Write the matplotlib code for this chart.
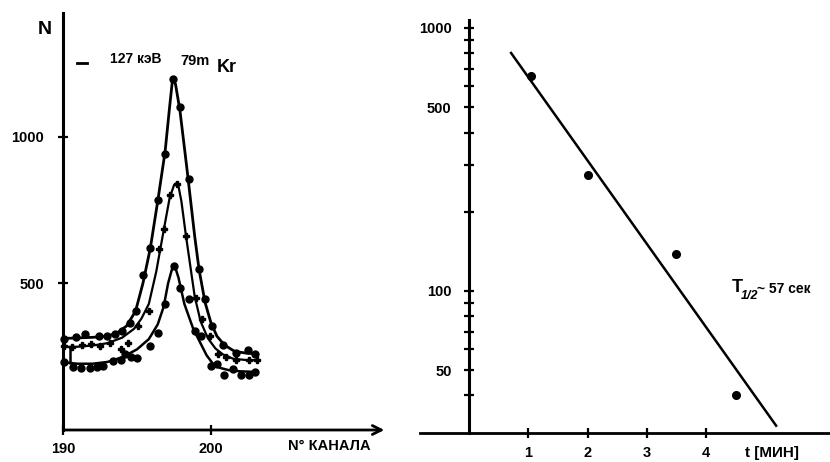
import matplotlib
matplotlib.use('Agg')
import matplotlib.pyplot as plt
from matplotlib.ticker import FixedLocator, NullFormatter

plt.rcParams['font.family'] = ['Liberation Sans', 'DejaVu Sans']
plt.rcParams['font.weight'] = 'bold'

# ---- left panel: 127 keV line, three spectra (channel, counts)
top_ch = [190.1, 190.9, 191.5, 192.4, 193.0, 193.5, 194.0, 194.5, 194.9, 195.4, 195.9,
          196.4, 196.9, 197.4, 197.9, 198.5, 199.2, 199.6, 200.1, 200.8, 201.7, 202.5, 203.0]
top_n = [310, 318, 327, 319, 321, 329, 338, 366, 406, 527, 621,
         786, 942, 1197, 1101, 856, 550, 446, 353, 289, 264, 272, 258]
top_fit_ch = [190.0, 191.0, 192.0, 193.0, 193.7, 194.3, 194.9, 195.4, 195.9, 196.4, 196.9, 197.2,
              197.4, 197.6, 197.9, 198.4, 198.9, 199.2, 199.6, 200.0, 200.4, 200.9, 201.6, 202.4, 203.1]
top_fit_n = [312, 314, 316, 320, 332, 355, 405, 500, 620, 780, 950, 1100,
             1195, 1180, 1090, 880, 660, 545, 435, 365, 320, 290, 268, 262, 260]

mid_ch = [190.1, 190.6, 191.3, 191.9, 192.5, 193.2, 193.9, 194.4, 195.1, 195.8, 196.5, 196.8,
          197.2, 197.7, 198.3, 199.0, 199.4, 199.9, 200.5, 201.0, 201.7, 202.6, 203.1]
mid_n = [287, 282, 290, 293, 288, 298, 276, 296, 355, 406, 616, 684,
         803, 838, 661, 450, 380, 320, 260, 250, 240, 240, 238]
mid_fit_ch = [190.0, 191.0, 192.0, 193.0, 194.0, 194.8, 195.3, 195.8, 196.3, 196.8, 197.2, 197.5,
              197.75, 198.0, 198.3, 198.6, 198.9, 199.3, 199.8, 200.3, 200.8, 201.5, 202.3, 203.1]
mid_fit_n = [283, 284, 288, 296, 315, 345, 380, 430, 540, 680, 790, 835,
             845, 780, 665, 560, 455, 370, 312, 278, 258, 243, 239, 238]

bot_ch = [190.1, 190.7, 191.2, 191.8, 192.3, 192.7, 193.4, 193.9, 194.2, 194.6, 195.0, 195.9, 196.4,
          196.9, 197.5, 197.9, 198.5, 198.9, 199.3, 200.0, 200.4, 200.9, 201.5, 202.0, 202.6, 203.0]
bot_n = [231, 215, 213, 212, 216, 219, 236, 240, 258, 250, 247, 287, 332,
         430, 559, 485, 446, 338, 321, 219, 225, 187, 207, 187, 187, 198]
bot_fit_ch = [190.0, 191.0, 192.0, 193.0, 194.0, 195.0, 195.8, 196.4, 196.8, 197.1, 197.4, 197.55,
              197.8, 198.2, 198.8, 199.3, 199.7, 200.1, 200.6, 201.2, 202.0, 203.1]
bot_fit_n = [231, 226, 226, 232, 248, 275, 310, 360, 420, 500, 555, 560,
             520, 430, 345, 295, 255, 228, 212, 204, 200, 198]

# ---- right panel: decay of the line
t_min = [1.05, 2.0, 3.49, 4.5]
counts = [656, 276, 138, 40]
line_t = [0.71, 5.18]
line_n = [803, 30.7]

fig = plt.figure(figsize=(8.3, 4.62), dpi=100)

ax1 = fig.add_axes([63/830, 1-430/462, (392-63)/830, (430-13)/462])
ax1.set_xlim(190, 190 + (392-63)/14.8)
ax1.set_ylim(0, 1422)
for s in ['top', 'right', 'bottom']:
    ax1.spines[s].set_visible(False)
ax1.spines['left'].set_linewidth(2.2)
ax1.annotate('', xy=(211.9, 0), xytext=(189.9, 0),
             arrowprops=dict(arrowstyle='->', lw=2, mutation_scale=16),
             annotation_clip=False)

ax1.plot(top_fit_ch, top_fit_n, color='black', lw=2, clip_on=False)
ax1.plot(mid_fit_ch, mid_fit_n, color='black', lw=1.6, clip_on=False)
ax1.plot(bot_fit_ch, bot_fit_n, color='black', lw=1.8, clip_on=False)
ax1.plot(top_ch, top_n, 'o', color='black', ms=5, clip_on=False)
ax1.plot(mid_ch, mid_n, 'P', color='black', ms=4, clip_on=False)
ax1.plot(bot_ch, bot_n, 'o', color='black', ms=5, clip_on=False)
ax1.vlines(190.5, 224, 287, color='black', lw=1.8)

ax1.set_xticks([190, 200])
ax1.set_xticklabels(['190', '200'])
ax1.set_yticks([500, 1000])
ax1.set_yticklabels(['500', '1000'])
ax1.tick_params(direction='inout', length=7, width=1.6, labelsize=10.5, pad=5)
ax1.tick_params(axis='y', pad=10)

fig.text(45/830, 1-30/462, 'N', fontsize=14, ha='center', va='center')
ax1.plot([77/830, 87/830], [1-63/462, 1-63/462], color='black', lw=2, transform=fig.transFigure)
fig.text(110/830, 1-59/462, '127 кэВ', fontsize=10, ha='left', va='center')
fig.text(180/830, 1-61/462, '79m', fontsize=10.5, ha='left', va='center')
fig.text(217/830, 1-68/462, 'Kr', fontsize=13, ha='left', va='center')
fig.text(288/830, 1-446/462, 'N° КАНАЛА', fontsize=10.5, ha='left', va='center')

ax2 = fig.add_axes([420/830, 1-433/462, 410/830, (433-20)/462])
ax2.set_yscale('log')
ax2.set_xlim(-0.826, 6.088)
ax2.set_ylim(28.8, 1072)
for s in ['top', 'right']:
    ax2.spines[s].set_visible(False)
ax2.spines['left'].set_position(('data', 0))
ax2.spines['left'].set_linewidth(2.2)
ax2.spines['bottom'].set_linewidth(2)

ax2.plot(line_t, line_n, color='black', lw=1.8)
ax2.plot(t_min, counts, 'o', color='black', ms=5.5)

ax2.set_xticks([1, 2, 3, 4])
ax2.set_xticklabels(['1', '2', '3', '4'])
ax2.yaxis.set_major_locator(FixedLocator([50, 100, 500, 1000]))
ax2.set_yticklabels(['50', '100', '500', '1000'])
ax2.yaxis.set_minor_locator(FixedLocator([40, 60, 70, 80, 90, 200, 300, 400, 600, 700, 800, 900]))
ax2.yaxis.set_minor_formatter(NullFormatter())
ax2.tick_params(which='both', direction='inout', length=7, width=1.6, labelsize=10.5, pad=6)
ax2.tick_params(axis='y', pad=9)

fig.text(772/830, 1-453/462, 't [МИН]', fontsize=11, ha='center', va='center')
fig.text(732/830, 1-288/462, 'T', fontsize=13, ha='left', va='center')
fig.text(741/830, 1-296/462, '1/2', fontsize=9, style='italic', ha='left', va='center')
fig.text(757/830, 1-289/462, '~ 57 сек', fontsize=10, ha='left', va='center')

plt.savefig('out.png', dpi=100)
